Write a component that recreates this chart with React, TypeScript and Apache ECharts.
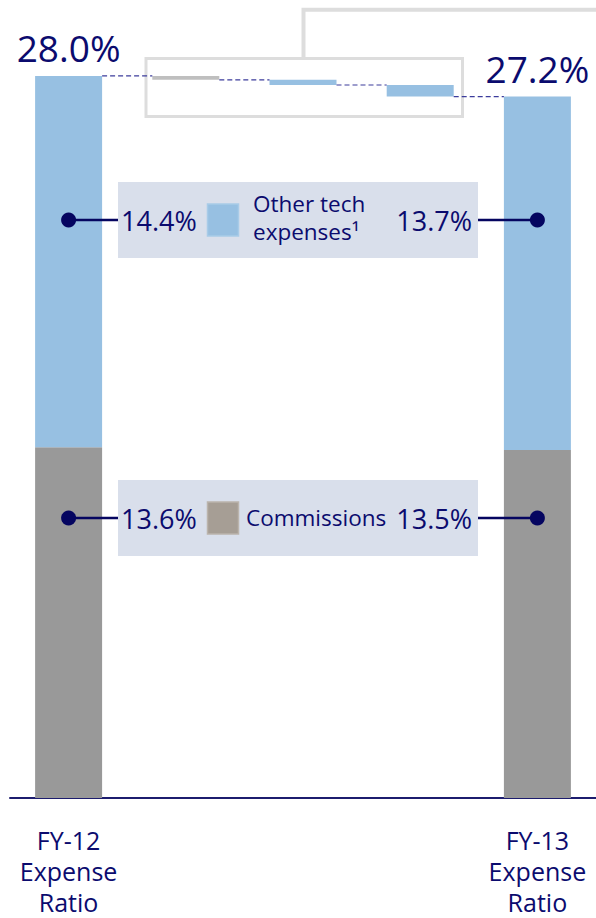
import React, { useEffect, useRef } from "react";
import * as echarts from "echarts";

const categories = ["FY-12\nExpense\nRatio", "", "", "", "FY-13\nExpense\nRatio"];
const commissions: (number | string)[] = [13.6, "-", "-", "-", 13.5];
const otherTech: (number | string)[] = [14.4, "-", "-", "-", 13.7];
const totalLabels = ["28.0%", "", "", "", "27.2%"];
const startTotal = 28.0;
const bridgeSteps = [-0.15, -0.2, -0.45];
const bridgeColors = ["#bfbfbf", "#97c0e2", "#97c0e2"];

const legendRows = [
  { lines: ["Other tech", "expenses¹"], left: "14.4%", right: "13.7%", color: "#97c0e2", border: "#a8cbe8", y: 220, boxTop: 182, nameX: 253, nameY: [203.5, 231], nameSize: 22.5 },
  { lines: ["Commissions"], left: "13.6%", right: "13.5%", color: "#a69e95", border: "#bbb4ac", y: 518, boxTop: 480, nameX: 246, nameY: [517.5], nameSize: 22.5 },
];

const NAVY = "#0b0b6e";
const FONT = "'Open Sans', 'Noto Sans', sans-serif";
const BAR_W = 67;

export default function App() {
  const ref = useRef<HTMLDivElement>(null);
  useEffect(() => {
    if (!ref.current) return;
    const chart = echarts.init(ref.current, undefined, { renderer: "svg" });

    const levels = [startTotal];
    bridgeSteps.forEach((s, i) => levels.push(+(levels[i] + s).toFixed(4)));
    const base: (number | string)[] = ["-", "-", "-", "-", "-"];
    const delta: any[] = ["-", "-", "-", "-", "-"];
    bridgeSteps.forEach((s, i) => {
      base[i + 1] = Math.min(levels[i], levels[i + 1]);
      delta[i + 1] = { value: Math.abs(s), itemStyle: { color: bridgeColors[i] } };
    });

    chart.setOption({
      animation: false,
      grid: { left: 10, right: 0, top: 24.4, bottom: 120, outerBoundsMode: "none", containLabel: false },
      xAxis: {
        type: "category",
        data: categories,
        axisTick: { show: false },
        axisLine: { lineStyle: { color: "#1c1c6e", width: 2 } },
        axisLabel: {
          interval: 0,
          color: NAVY,
          fontFamily: FONT,
          fontSize: 25,
          lineHeight: 31,
          margin: 26,
        },
      },
      yAxis: { type: "value", min: 0, max: 30, show: false },
      series: [
        {
          type: "bar",
          stack: "a",
          data: commissions,
          barWidth: BAR_W,
          itemStyle: { color: "#999999" },
        },
        {
          type: "bar",
          stack: "a",
          data: otherTech,
          barWidth: BAR_W,
          itemStyle: { color: "#97c0e2" },
          label: {
            show: true,
            position: "top",
            distance: 10,
            color: NAVY,
            fontFamily: FONT,
            fontSize: 37,
            formatter: (p: any) => totalLabels[p.dataIndex],
          },
        },
        {
          type: "bar",
          stack: "a",
          data: base,
          barWidth: BAR_W,
          itemStyle: { color: "transparent" },
          silent: true,
        },
        {
          type: "bar",
          stack: "a",
          data: delta,
          barWidth: BAR_W,
        },
      ],
    });

    const px = (c: number, v: number) => chart.convertToPixel({ gridIndex: 0 }, [c, v]) as number[];
    const graphics: any[] = [];

    // dashed connectors
    levels.forEach((lv, i) => {
      const a = px(i, lv);
      const b = px(i + 1, lv);
      graphics.push({
        type: "line",
        z: 50,
        shape: { x1: a[0] + BAR_W / 2, y1: a[1], x2: b[0] - BAR_W / 2, y2: b[1] },
        style: { stroke: "#3c3c9c", lineWidth: 1.2, lineDash: [5, 3] },
      });
    });

    // callout box & bracket
    graphics.push({
      type: "rect",
      z: 40,
      shape: { x: 146, y: 58.5, width: 316.5, height: 58 },
      style: { fill: "none", stroke: "#dddddd", lineWidth: 3 },
    });
    graphics.push({
      type: "polyline",
      z: 40,
      shape: { points: [[303.5, 57], [303.5, 9.7], [600, 9.7]] },
      style: { fill: "none", stroke: "#dddddd", lineWidth: 4 },
    });

    const xl = px(0, 0)[0];
    const xr = px(4, 0)[0];
    legendRows.forEach((r) => {
      graphics.push({
        type: "rect",
        z: 60,
        shape: { x: 118, y: r.boxTop, width: 360, height: 76 },
        style: { fill: "#d9dfeb" },
      });
      graphics.push({
        type: "line",
        z: 61,
        shape: { x1: xl, y1: r.y, x2: 118, y2: r.y },
        style: { stroke: "#050560", lineWidth: 2.5 },
      });
      graphics.push({
        type: "line",
        z: 61,
        shape: { x1: 478, y1: r.y, x2: xr, y2: r.y },
        style: { stroke: "#050560", lineWidth: 2.5 },
      });
      graphics.push({ type: "circle", z: 62, shape: { cx: xl, cy: r.y, r: 7.5 }, style: { fill: "#050560" } });
      graphics.push({ type: "circle", z: 62, shape: { cx: xr, cy: r.y, r: 7.5 }, style: { fill: "#050560" } });
      graphics.push({
        type: "rect",
        z: 62,
        shape: { x: 207.5, y: r.y - 16, width: 31, height: 32 },
        style: { fill: r.color, stroke: r.border, lineWidth: 1.5 },
      });
      graphics.push({
        type: "text",
        z: 63,
        style: {
          text: r.left,
          x: 121,
          y: r.y,
          fill: NAVY,
          fontFamily: FONT,
          fontSize: 27,
          textAlign: "left",
          textVerticalAlign: "middle",
        },
      });
      graphics.push({
        type: "text",
        z: 63,
        style: {
          text: r.right,
          x: 472,
          y: r.y,
          fill: NAVY,
          fontFamily: FONT,
          fontSize: 27,
          textAlign: "right",
          textVerticalAlign: "middle",
        },
      });
      r.lines.forEach((ln, k) => {
        graphics.push({
          type: "text",
          z: 63,
          style: {
            text: ln,
            x: r.nameX,
            y: r.nameY[k],
            fill: NAVY,
            fontFamily: FONT,
            fontSize: r.nameSize,
            textAlign: "left",
            textVerticalAlign: "middle",
          },
        });
      });
    });

    chart.setOption({ graphic: { elements: graphics } });

    return () => chart.dispose();
  }, []);

  return (
    <div
      ref={ref}
      style={{ position: "fixed", left: 0, top: 0, width: 596, height: 918, background: "#ffffff" }}
    />
  );
}
